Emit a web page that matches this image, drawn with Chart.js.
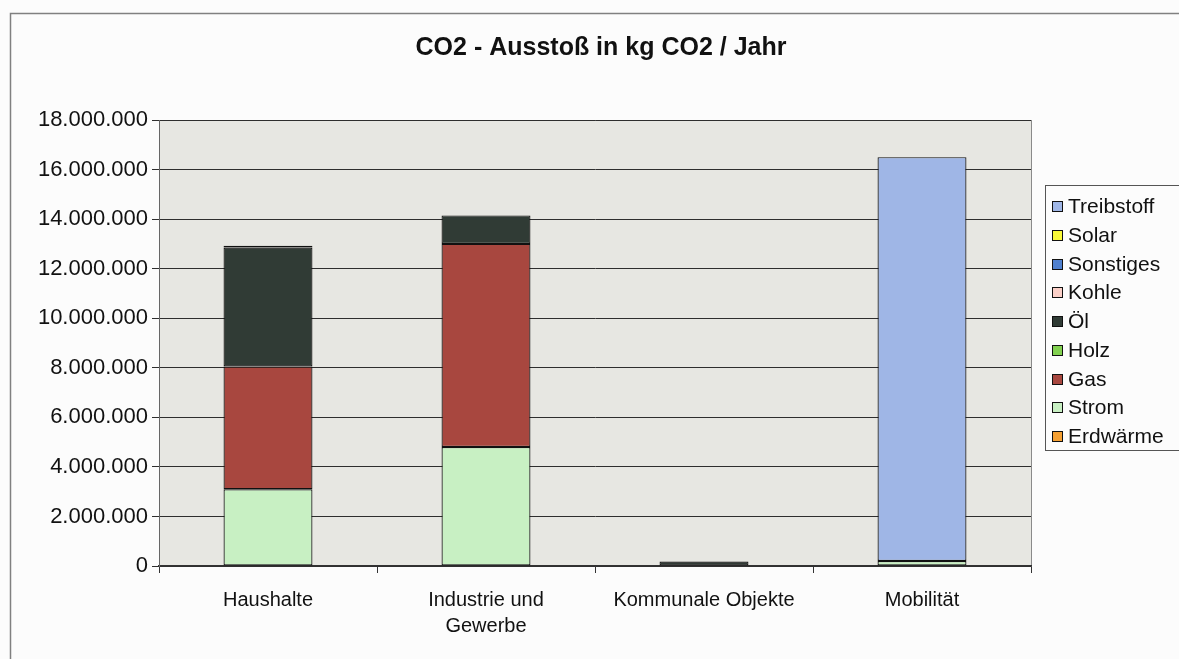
<!DOCTYPE html>
<html lang="de">
<head>
<meta charset="utf-8">
<title>CO2 - Ausstoß in kg CO2 / Jahr</title>
<script src="https://cdn.jsdelivr.net/npm/chart.js@4/dist/chart.umd.min.js"></script>
<style>
  html, body { margin: 0; padding: 0; background: #fcfcfc; }
  #wrap { width: 1179px; height: 659px; position: relative; }
</style>
</head>
<body>
<div id="wrap"><canvas id="co2-chart" width="1179" height="659"></canvas></div>
<script>
// Sektoren (x-Achse)
const categories = ['Haushalte', ['Industrie und', 'Gewerbe'], 'Kommunale Objekte', 'Mobilität'];

// kg CO2 / Jahr je Energieträger
const erdwaerme  = [0, 0, 0, 0];
const strom      = [3100000, 4800000, 0, 200000];
const gas        = [4950000, 8200000, 0, 0];
const holz       = [0, 0, 0, 0];
const oel        = [4800000, 1150000, 180000, 0];
const kohle      = [70000, 0, 0, 0];
const sonstiges  = [0, 0, 0, 0];
const solar      = [0, 0, 0, 0];
const treibstoff = [0, 0, 0, 16300000];

const yTicks = { min: 0, max: 18000000, step: 2000000 };

const FONT = "'Liberation Sans', Arial, sans-serif";
const fmt = v => String(v).replace(/\B(?=(\d{3})+(?!\d))/g, '.');

const series = [
    { label: 'Erdwärme',   data: erdwaerme,  color: '#f5a033' },
    { label: 'Strom',      data: strom,      color: '#c8f0c3' },
    { label: 'Gas',        data: gas,        color: '#a8473f' },
    { label: 'Holz',       data: holz,       color: '#82d150' },
    { label: 'Öl',         data: oel,        color: '#303b35' },
    { label: 'Kohle',      data: kohle,      color: '#fbd0c8' },
    { label: 'Sonstiges',  data: sonstiges,  color: '#4f80cf' },
    { label: 'Solar',      data: solar,      color: '#fafa3a' },
    { label: 'Treibstoff', data: treibstoff, color: '#9fb6e6' },
];

// Rahmen, Plotfläche, Titel und Legende im Excel-Stil
const excelLook = {
    id: 'excelLook',
    beforeDraw(chart) {
        const { ctx, chartArea: a } = chart;
        ctx.save();
        ctx.fillStyle = '#fcfcfc';
        ctx.fillRect(0, 0, chart.width, chart.height);
        ctx.strokeStyle = '#808080';
        ctx.lineWidth = 1.5;
        ctx.beginPath();
        ctx.moveTo(10.5, chart.height);
        ctx.lineTo(10.5, 13.5);
        ctx.lineTo(chart.width, 13.5);
        ctx.stroke();
        ctx.fillStyle = '#e7e7e2';
        ctx.fillRect(a.left, a.top, a.right - a.left, a.bottom - a.top);
        ctx.strokeStyle = '#8a8a8a';
        ctx.lineWidth = 1;
        ctx.strokeRect(a.left + 0.5, a.top + 0.5, a.right - a.left, a.bottom - a.top);
        ctx.restore();
    },
    afterDraw(chart) {
        const { ctx } = chart;
        ctx.save();
        // Titel
        ctx.fillStyle = '#111';
        ctx.font = 'bold 25px ' + FONT;
        ctx.textAlign = 'center';
        ctx.textBaseline = 'middle';
        ctx.fillText('CO2 - Ausstoß in kg CO2 / Jahr', 601, 48);

        // Legende (oberster Eintrag = letzte Reihe, wie in Excel)
        const items = chart.data.datasets.slice().reverse();
        const top = 185, step = 28.75;
        ctx.strokeStyle = '#555';
        ctx.lineWidth = 1;
        ctx.strokeRect(1045.5, top + 0.5, 160, 265);
        ctx.font = '21px ' + FONT;
        ctx.textAlign = 'left';
        items.forEach((ds, i) => {
            const y = Math.round(top + 21 + i * step);
            ctx.fillStyle = ds.backgroundColor;
            ctx.fillRect(1052, y - 5, 11, 11);
            ctx.strokeStyle = '#111';
            ctx.strokeRect(1052.5, y - 4.5, 10, 10);
            ctx.fillStyle = '#111';
            ctx.fillText(ds.label, 1068, y + 1);
        });
        ctx.restore();
    }
};

new Chart(document.getElementById('co2-chart'), {
    type: 'bar',
    data: {
        labels: categories,
        datasets: series.map(s => ({
            label: s.label,
            data: s.data,
            backgroundColor: s.color,
            borderColor: '#111',
            borderWidth: 1.2,
            borderSkipped: false,
            categoryPercentage: 1,
            barPercentage: 0.408,
        }))
    },
    options: {
        responsive: false,
        animation: false,
        layout: { padding: { left: 0, right: 148, top: 120, bottom: 0 } },
        plugins: {
            legend: { display: false },
            title: { display: false },
            tooltip: { enabled: false }
        },
        scales: {
            x: {
                stacked: true,
                offset: true,
                grid: { offset: true, drawOnChartArea: false, drawTicks: true, tickLength: 7, color: '#333' },
                border: { color: '#333', width: 1.5 },
                ticks: { color: '#111', font: { family: FONT, size: 20, lineHeight: 1.3 }, padding: 14, maxRotation: 0, autoSkip: false },
                afterFit: scale => { scale.height = 93; }
            },
            y: {
                stacked: true,
                min: yTicks.min,
                max: yTicks.max,
                grid: { color: '#2e2e2e', lineWidth: 1, tickLength: 7 },
                border: { color: '#666', width: 1 },
                ticks: {
                    stepSize: yTicks.step,
                    color: '#111',
                    padding: 4,
                    font: { family: FONT, size: 22 },
                    callback: v => fmt(v)
                },
                afterFit: scale => { scale.width = 159; }
            }
        }
    },
    plugins: [excelLook]
});
</script>
</body>
</html>
